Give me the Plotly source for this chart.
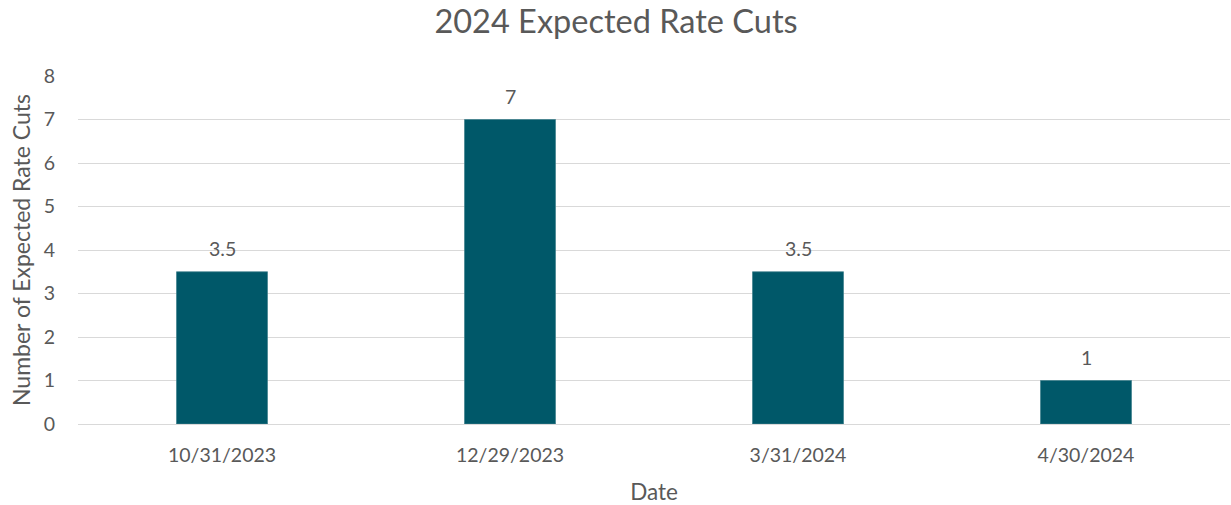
import plotly.graph_objects as go

dates = ["10/31/2023", "12/29/2023", "3/31/2024", "4/30/2024"]
cuts = [3.5, 7, 3.5, 1]
labels = ["3.5", "7", "3.5", "1"]
y_ticks = [0, 1, 2, 3, 4, 5, 6, 7, 8]

FONT = "Lato"
GRAY = "#595959"
BAR = "#005869"

fig = go.Figure()
fig.add_trace(go.Bar(
    x=dates, y=cuts,
    marker=dict(color=BAR, line=dict(color="#3f7f8c", width=0.7)),
    width=0.316,
    hoverinfo="skip",
))

for d, v, t in zip(dates, cuts, labels):
    fig.add_annotation(x=d, y=v, text=t, showarrow=False, yanchor="bottom",
                       yshift=10, font=dict(family=FONT, size=19.5, color=GRAY))

fig.update_layout(
    width=1231, height=505, autosize=False,
    margin=dict(l=78, r=1, t=76, b=81),
    paper_bgcolor="white", plot_bgcolor="white",
    showlegend=False,
    title=dict(text="2024 Expected Rate Cuts", x=616 / 1231, xref="container", xanchor="center",
               y=1 - 22 / 505, yref="container", yanchor="middle",
               font=dict(family=FONT, size=32.5, color=GRAY)),
    font=dict(family=FONT, color=GRAY),
)
fig.update_xaxes(
    type="category",
    title=dict(text="Date", font=dict(family=FONT, size=22.5, color=GRAY), standoff=19),
    tickfont=dict(family=FONT, size=19.5, color=GRAY),
    showgrid=False, showline=False, ticks="", ticklabelstandoff=17,
    automargin=False,
)
fig.update_yaxes(
    range=[0, 8], tickvals=y_ticks,
    title=dict(text="Number of Expected Rate Cuts", font=dict(family=FONT, size=23, color=GRAY), standoff=6),
    tickfont=dict(family=FONT, size=19.5, color=GRAY),
    showgrid=True, gridcolor="#d9d9d9", gridwidth=1.3,
    zeroline=True, zerolinecolor="#d9d9d9", zerolinewidth=1.3,
    ticks="", ticklabelstandoff=22, showline=False,
    automargin=False,
)

fig.write_html("out.html", config={"displayModeBar": False},
               post_script="document.body.style.margin='0px';")
